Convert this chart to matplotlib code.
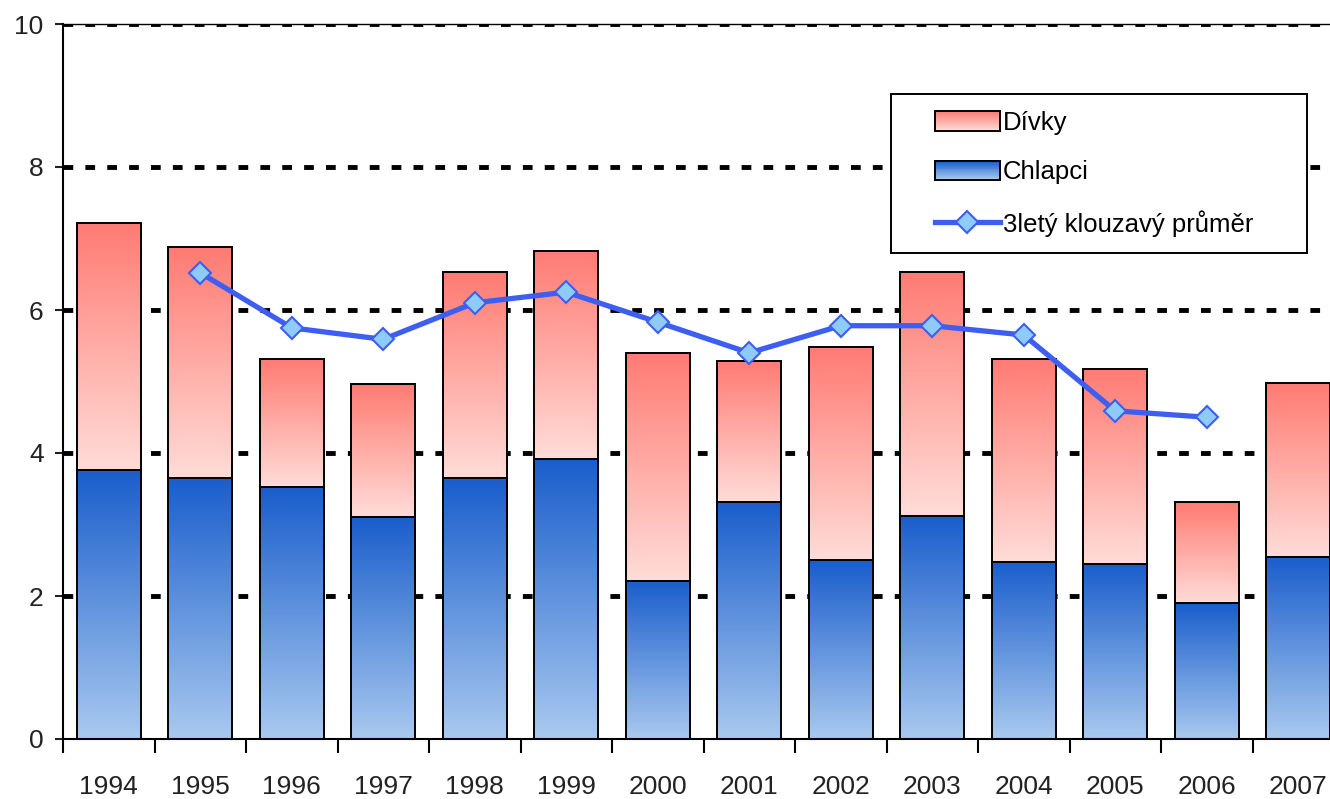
import numpy as np
import matplotlib
matplotlib.use("Agg")
import matplotlib.pyplot as plt
from matplotlib.legend_handler import HandlerBase
from matplotlib.patches import Rectangle
from matplotlib.lines import Line2D
from matplotlib.colors import to_rgb

years = ["1994", "1995", "1996", "1997", "1998", "1999", "2000",
         "2001", "2002", "2003", "2004", "2005", "2006", "2007"]
chlapci = [3.76, 3.65, 3.52, 3.10, 3.65, 3.92, 2.21,
           3.31, 2.50, 3.12, 2.48, 2.45, 1.90, 2.55]
divky = [3.46, 3.23, 1.79, 1.87, 2.88, 2.91, 3.19,
         1.98, 2.98, 3.41, 2.84, 2.73, 1.41, 2.43]
prumer_years = ["1995", "1996", "1997", "1998", "1999", "2000",
                "2001", "2002", "2003", "2004", "2005", "2006"]
prumer = [6.52, 5.75, 5.59, 6.10, 6.25, 5.83,
          5.40, 5.78, 5.78, 5.65, 4.59, 4.50]
yticks = [0, 2, 4, 6, 8, 10]

BLUE = ("#a9c9ef", "#1a5ecc")   # bottom, top
PINK = ("#ffdcd8", "#ff7b73")
LINE_C = "#3d5ef0"
MARK_C = "#8ecbf8"

plt.rcParams["font.family"] = ["Liberation Sans", "DejaVu Sans"]


def gradient(c_bottom, c_top, n=256):
    a = np.array(to_rgb(c_bottom))
    b = np.array(to_rgb(c_top))
    t = np.linspace(0, 1, n)[:, None]
    return (a * (1 - t) + b * t)[:, None, :]


class GradientHandler(HandlerBase):
    def __init__(self, colors):
        super().__init__()
        self.colors = colors

    def create_artists(self, legend, orig_handle, xdescent, ydescent,
                       width, height, fontsize, trans):
        arts = []
        n = 20
        y0 = -ydescent
        grad = gradient(*self.colors, n=n)
        for i in range(n):
            r = Rectangle((-xdescent, y0 + height * i / n), width,
                          height / n + 0.3, facecolor=grad[i, 0],
                          edgecolor="none", transform=trans)
            arts.append(r)
        arts.append(Rectangle((-xdescent, y0), width, height, facecolor="none",
                              edgecolor="black", lw=1.4, transform=trans))
        return arts


fig = plt.figure(figsize=(13.3, 7.99), dpi=100)
ax = fig.add_axes([63 / 1330, 60 / 799, 1281 / 1330, 715 / 799])

x = np.arange(len(years))
w = 0.7
tops = np.array(chlapci) + np.array(divky)

for i in x:
    for bottom, top, cols in ((0, chlapci[i], BLUE), (chlapci[i], tops[i], PINK)):
        ax.imshow(gradient(*cols), extent=[i - w / 2, i + w / 2, bottom, top],
                  aspect="auto", origin="lower", interpolation="bilinear",
                  zorder=1)
ax.bar(x, chlapci, w, facecolor="none", edgecolor="black", lw=1.4, zorder=2)
ax.bar(x, divky, w, bottom=chlapci, facecolor="none", edgecolor="black",
       lw=1.4, zorder=2)

px = [years.index(y) for y in prumer_years]
ax.plot(px, prumer, color=LINE_C, lw=3.8, marker="D", ms=11,
        mfc=MARK_C, mec=LINE_C, mew=1.5, zorder=4)

ax.set_xlim(-0.5, len(years) - 0.5)
ax.set_ylim(0, 10)
ax.set_yticks(yticks)
ax.set_xticks(x)
ax.set_xticklabels(years)
ax.set_xticks(np.arange(-0.5, len(years)), minor=True)
ax.tick_params(axis="x", which="major", length=0, pad=26, labelsize=19,
               colors="#222222")
ax.tick_params(axis="x", which="minor", length=10, width=1.5,
               direction="out")
ax.tick_params(axis="y", length=6, width=1.5, labelsize=19, pad=8,
               colors="#222222")

# dotted gridlines behind the bars (none on the zero line)
for yv in yticks[1:]:
    ax.axhline(yv, color="black", lw=3.5, linestyle=(0, (2, 2.5)), zorder=0)
for side in ("left", "bottom"):
    ax.spines[side].set_linewidth(1.5)
ax.spines["top"].set_linewidth(1.0)
ax.spines["right"].set_visible(False)

h_div = Rectangle((0, 0), 1, 1)
h_chl = Rectangle((0, 0), 1, 1)
h_line = Line2D([], [], color=LINE_C, lw=3.8, marker="D", ms=11,
                mfc=MARK_C, mec=LINE_C, mew=1.5)
leg = ax.legend([h_div, h_chl, h_line],
                ["Dívky", "Chlapci", "3letý klouzavý průměr"],
                handler_map={h_div: GradientHandler(PINK),
                             h_chl: GradientHandler(BLUE)},
                loc="upper left", bbox_to_anchor=(864 / 1281, (739 - 103) / 715),
                fontsize=18.5, frameon=False,
                handlelength=2.55, handleheight=0.8,
                handletextpad=0.1, labelspacing=1.0,
                borderpad=0.3, borderaxespad=0)
leg.set_zorder(5)

# frame drawn by hand so it can have wider side margins than the legend's own
fig.canvas.draw()
bb = leg.get_window_extent()
frame = Rectangle((bb.x0 - 36, bb.y0 - 9), bb.width + 36 + 46, bb.height + 18,
                  transform=None, facecolor="white", edgecolor="black",
                  lw=1.4, zorder=4.5)
ax.add_artist(frame)

fig.savefig("out.png", dpi=100)
